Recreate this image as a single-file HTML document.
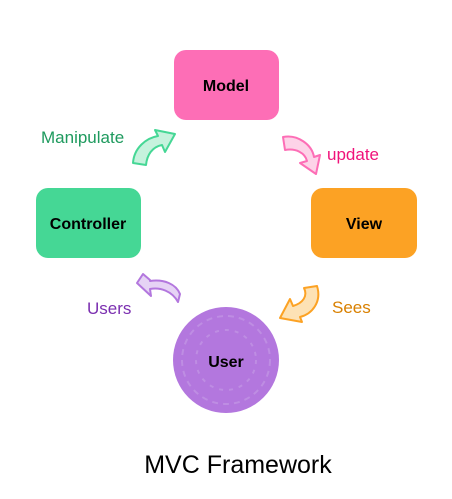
<!DOCTYPE html>
<html><head><meta charset="utf-8"><style>
body{margin:0;background:#fff;width:452px;height:499px;overflow:hidden}
svg{display:block}
text{font-family:"Liberation Sans",sans-serif}
</style></head><body>
<svg width="452" height="499" viewBox="0 0 452 499">
<rect x="174" y="50" width="105" height="70" rx="12" fill="#fd6eb6"/>
<text x="226" y="91" text-anchor="middle" font-size="16" font-weight="bold">Model</text>
<rect x="36" y="188" width="105" height="70" rx="12" fill="#45d795"/>
<text x="88" y="229" text-anchor="middle" font-size="16" font-weight="bold">Controller</text>
<rect x="311" y="188" width="106" height="70" rx="12" fill="#fca224"/>
<text x="364" y="229" text-anchor="middle" font-size="16" font-weight="bold">View</text>
<circle cx="226" cy="360" r="53" fill="#b377de"/>
<circle cx="226" cy="360" r="44" fill="none" stroke="#c9a3e8" stroke-width="2" stroke-dasharray="6 5" opacity=".5"/>
<circle cx="226" cy="360" r="30" fill="none" stroke="#c9a3e8" stroke-width="2" stroke-dasharray="4 6" opacity=".5"/>
<text x="226" y="367" text-anchor="middle" font-size="16" font-weight="bold">User</text>
<path d="M133,163 C134,148 146,138 158,136 L155,130 L175,134 L165,152 L162,145 C152,147 147,155 146,165 Z" fill="#c6f2dd" stroke="#45d795" stroke-width="2" stroke-linejoin="round"/>
<text x="41" y="143" font-size="17" fill="#1e9a5e">Manipulate</text>
<path d="M283,137 C298,134 312,145 314,157 L320,155 L316,174 L300,163 L307,161 C305,153 296,148 285,150 Z" fill="#fdd3e8" stroke="#fd6eb6" stroke-width="2" stroke-linejoin="round"/>
<text x="327" y="160" font-size="17" fill="#f0127a">update</text>
<path d="M317,286 C322,302 312,314 300,317 L302,322 L280,318 L290,299 L293,306 C303,303 308,296 304,288 Z" fill="#fde2b5" stroke="#fca224" stroke-width="2" stroke-linejoin="round"/>
<text x="332" y="313" font-size="17" fill="#d98000">Sees</text>
<path d="M178,302 C172,291 160,287 150,289 L151,296 L137,283 L143,274 L150,280 L150,281 C164,279 176,284 180,294 Z" fill="#e6d3f5" stroke="#b377de" stroke-width="2" stroke-linejoin="round"/>
<text x="87" y="314" font-size="17" fill="#7b2fb0">Users</text>
<text x="238" y="473" text-anchor="middle" font-size="25">MVC Framework</text>
</svg>
</body></html>
